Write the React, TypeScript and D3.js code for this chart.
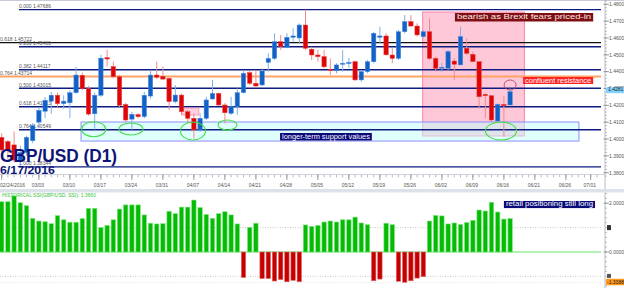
import React from "react";
import * as d3 from "d3";

const W = 624;
const H = 288;

// Daily GBP/USD candles, 02/24/2016 .. 06/17/2016 (index 0..82)
const opens = [1.4010,1.3985,1.3965,1.3875,1.3920,1.3990,1.4100,1.4165,1.4225,1.4260,1.4210,1.4215,1.4275,1.4378,1.4300,1.4150,1.4260,1.4483,1.4430,1.4370,1.4205,1.4118,1.4145,1.4133,1.4255,1.4380,1.4372,1.4360,1.4222,1.4261,1.4162,1.4123,1.4054,1.4123,1.4238,1.4271,1.4202,1.4153,1.4192,1.4275,1.4394,1.4331,1.4321,1.4455,1.4479,1.4578,1.4545,1.4604,1.4600,1.4677,1.4533,1.4499,1.4489,1.4414,1.4406,1.4444,1.4448,1.4459,1.4351,1.4400,1.4459,1.4604,1.4612,1.4499,1.4479,1.4637,1.4697,1.4671,1.4608,1.4637,1.4479,1.4420,1.4420,1.4463,1.4440,1.4539,1.4503,1.4459,1.4265,1.4257,1.4107,1.4206,1.4202];
const highs = [1.4035,1.3995,1.4045,1.3960,1.4020,1.4095,1.4190,1.4250,1.4280,1.4275,1.4260,1.4290,1.4430,1.4395,1.4315,1.4275,1.4500,1.4530,1.4460,1.4380,1.4215,1.4162,1.4153,1.4281,1.4410,1.4460,1.4430,1.4365,1.4320,1.4268,1.4172,1.4153,1.4153,1.4251,1.4351,1.4275,1.4214,1.4251,1.4301,1.4410,1.4406,1.4410,1.4420,1.4509,1.4628,1.4618,1.4628,1.4657,1.4687,1.4769,1.4548,1.4529,1.4529,1.4479,1.4450,1.4529,1.4481,1.4465,1.4410,1.4469,1.4637,1.4667,1.4628,1.4539,1.4647,1.4736,1.4736,1.4687,1.4647,1.4717,1.4489,1.4451,1.4529,1.4481,1.4667,1.4598,1.4519,1.4462,1.4271,1.4261,1.4212,1.4255,1.4301];
const lows = [1.3880,1.3880,1.3860,1.3835,1.3900,1.3975,1.4065,1.4125,1.4150,1.4190,1.4180,1.4125,1.4270,1.4290,1.4140,1.4055,1.4250,1.4430,1.4360,1.4190,1.4100,1.4055,1.4123,1.4123,1.4240,1.4355,1.4350,1.4172,1.4212,1.4143,1.4095,1.4004,1.4043,1.4113,1.4232,1.4198,1.4093,1.4143,1.4143,1.4271,1.4321,1.4307,1.4315,1.4400,1.4469,1.4529,1.4539,1.4578,1.4568,1.4529,1.4469,1.4459,1.4420,1.4380,1.4390,1.4400,1.4422,1.4345,1.4340,1.4392,1.4450,1.4568,1.4495,1.4450,1.4469,1.4628,1.4667,1.4608,1.4598,1.4469,1.4410,1.4398,1.4410,1.4351,1.4440,1.4499,1.4455,1.4182,1.4123,1.4103,1.4103,1.4014,1.4202];
const closes = [1.3935,1.3930,1.3875,1.3920,1.4010,1.4080,1.4170,1.4230,1.4260,1.4210,1.4225,1.4275,1.4380,1.4300,1.4148,1.4260,1.4480,1.4475,1.4370,1.4200,1.4113,1.4147,1.4133,1.4260,1.4380,1.4367,1.4356,1.4222,1.4261,1.4162,1.4123,1.4054,1.4123,1.4232,1.4271,1.4202,1.4156,1.4192,1.4275,1.4390,1.4331,1.4315,1.4404,1.4479,1.4578,1.4548,1.4604,1.4612,1.4677,1.4539,1.4499,1.4489,1.4429,1.4406,1.4440,1.4450,1.4455,1.4351,1.4400,1.4459,1.4628,1.4612,1.4500,1.4479,1.4637,1.4697,1.4671,1.4618,1.4637,1.4479,1.4420,1.4426,1.4519,1.4444,1.4608,1.4509,1.4460,1.4251,1.4257,1.4113,1.4206,1.4198,1.4281];

// Historical SSI, one bar per candle
const ssiValues = [2.06,2.06,2.30,2.02,1.90,1.38,1.27,1.24,1.16,1.49,1.32,1.22,1.22,1.37,1.79,1.79,1.00,1.09,1.32,1.76,1.93,1.93,1.93,1.52,1.18,1.15,1.16,1.67,1.57,1.84,1.84,2.13,1.82,1.54,1.38,1.57,1.65,1.52,1.15,-1.04,1.01,1.18,-1.09,-1.09,-1.19,-1.13,-1.22,-1.16,-1.22,1.11,1.05,1.09,1.23,1.27,1.23,1.32,1.32,1.43,1.19,1.12,-1.18,-1.11,1.18,1.12,-1.20,-1.24,-1.18,-1.07,-1.01,1.27,1.50,1.48,1.15,1.19,1.13,1.21,1.30,1.72,1.68,2.04,1.64,1.35,1.37];

const tickIndex = [0, 6, 11, 16, 21, 26, 31, 36, 41, 46, 51, 56, 61, 66, 71, 76, 81, 86, 91, 95];
const tickLabels = ["02/24/2016","03/03","03/10","03/17","03/24","03/31","04/07","04/14","04/21","04/28","05/05","05/12","05/19","05/26","06/02","06/09","06/16","06/21","06/26","07/01"];

const fibRatios = ["0.000","0.236","0.382","0.500","0.618","0.764","1.000"];
const fibPrices = [1.47686, 1.45481, 1.44117, 1.43015, 1.41913, 1.40549, 1.38344];
const fib2Ratios = ["0.618","0.764"];
const fib2Prices = [1.45722, 1.43714];
const fib2Colors = ["#111111", "#ffa466"];

const priceTicks = [1.38,1.39,1.40,1.41,1.42,1.43,1.44,1.45,1.46,1.47,1.48];
const ssiLabelTicks = [2, 0];
const lastPrice = 1.4281;
const lastSsi = 1.366;
const minSsiLabel = "-1.3388";

// support touches (index, price)
const supportIdx = [14.84, 20.85, 30.85, 36.42, 80.53];
const supportPrice = [1.40583, 1.40595, 1.40476, 1.40833, 1.40476];
const supportRx = [12, 12, 12.5, 9.5, 15.5];
const supportRy = [7.5, 6, 9, 5, 9];

const FONT = "'Liberation Sans', Arial, sans-serif";

export default function App() {
  const x = d3.scaleLinear().domain([0, 82]).range([1.7, 510.1]);
  const y = d3.scaleLinear().domain([1.38, 1.48]).range([172.7, 4.3]);
  const ys = d3.scaleLinear().domain([-1, 2]).range([276.4, 203.2]);
  const plotRight = 601;
  const axisX = 605;
  const bodyW = 4.4;

  const minorPrice = d3.range(1.378, 1.4821, 0.002);
  const minorSsi = d3.range(-1.4, 2.41, 0.2);
  const allTicks = d3.range(0, 97);

  const box = (i0: number, i1: number, p0: number, p1: number) => ({
    x: x(i0), y: y(p0), w: x(i1) - x(i0), h: y(p1) - y(p0),
  });
  const brexitZone = box(67.9, 84.3, 1.4754, 1.4018);
  const supportZone = box(12.8, 93.1, 1.4101, 1.3988);
  const pinkTag = box(29.1, 31.8, 1.41838, 1.41422);
  const brexitLbl = box(73.1, 95.4, 1.47483, 1.46979);
  const confLbl = box(84.1, 95.4, 1.43683, 1.43267);
  const supLbl = box(44.9, 59.7, 1.40358, 1.39912);
  const retail = { x: x(81.0), y: ys(2.09), w: x(95.7) - x(81.0), h: ys(1.8) - ys(2.09) };

  const zeroY = ys(0);

  return (
    <svg width={W} height={H} style={{ position: "absolute", left: 0, top: 0, background: "#fff" }} fontFamily={FONT}>
      <rect x={0} y={0} width={W} height={H} fill="#ffffff" />
      <line x1={0} x2={W} y1={0.5} y2={0.5} stroke="#c8ccd6" />

      {/* zones */}
      <rect x={brexitZone.x} y={brexitZone.y} width={brexitZone.w} height={brexitZone.h}
        fill="#ff6090" fillOpacity={0.35} stroke="#ff7fa6" strokeWidth={1} />
      <rect x={supportZone.x} y={supportZone.y} width={supportZone.w} height={supportZone.h}
        fill="#c0ffff" fillOpacity={0.5} stroke="#8c8cff" strokeWidth={1} />

      {/* second fib set (black / orange) */}
      {fib2Prices.map((p, k) => (
        <g key={"f2" + k}>
          <line x1={0} x2={plotRight} y1={y(p)} y2={y(p)} stroke={fib2Colors[k]} strokeWidth={k === 1 ? 2 : 1.3} />
          <text x={0} y={y(p) - 1.6} fontSize={5} fill="#555">{fib2Ratios[k]} {p.toFixed(5)}</text>
        </g>
      ))}
      {/* fib set */}
      {fibPrices.map((p, k) => (
        <g key={"f" + k}>
          <line x1={19} x2={plotRight} y1={y(p)} y2={y(p)} stroke="#0d1a80" strokeWidth={1.4} />
          <text x={19} y={y(p) - 1.6} fontSize={5} fill="#555">{fibRatios[k]} {p.toFixed(5)}</text>
        </g>
      ))}

      <rect x={pinkTag.x} y={pinkTag.y} width={pinkTag.w} height={pinkTag.h} fill="#ffd2e2" stroke="#ff8fb0" strokeWidth={0.8} />

      {/* candles */}
      {opens.map((o, i) => {
        const c = closes[i];
        const up = c >= o;
        const cx = x(i);
        const top = y(Math.max(o, c));
        const bot = y(Math.min(o, c));
        return (
          <g key={"c" + i}>
            <line x1={cx} x2={cx} y1={y(highs[i])} y2={y(lows[i])} stroke={up ? "#7fb0ea" : "#f08a8a"} strokeWidth={1} />
            <rect x={cx - bodyW / 2} y={top} width={bodyW} height={Math.max(1, bot - top)}
              fill={up ? "#1461c6" : "#dd0505"} stroke={up ? "#4a8ae0" : "#e84040"} strokeWidth={0.5} />
          </g>
        );
      })}

      {/* ellipses */}
      {supportIdx.map((si, k) => (
        <ellipse key={"e" + k} cx={x(si)} cy={y(supportPrice[k])} rx={supportRx[k]} ry={supportRy[k]}
          fill="none" stroke="#3ee03e" strokeWidth={1.1} />
      ))}
      <ellipse cx={x(82)} cy={y(1.43208)} rx={6} ry={5} fill="none" stroke="#b04a70" strokeWidth={0.9} />

      {/* annotation labels */}
      <rect x={brexitLbl.x} y={brexitLbl.y} width={brexitLbl.w} height={brexitLbl.h} fill="#7d0f12" />
      <text x={brexitLbl.x + 2} y={brexitLbl.y + brexitLbl.h - 2} fontSize={7} fill="#ffe8e8"
        textLength={brexitLbl.w - 4} lengthAdjust="spacingAndGlyphs">bearish as Brexit fears priced-in</text>
      <rect x={confLbl.x} y={confLbl.y} width={confLbl.w} height={confLbl.h} fill="#ff2424" />
      <text x={confLbl.x + 2} y={confLbl.y + confLbl.h - 1.5} fontSize={6.5} fill="#fff"
        textLength={confLbl.w - 4} lengthAdjust="spacingAndGlyphs">confluent resistance</text>
      <rect x={supLbl.x} y={supLbl.y} width={supLbl.w} height={supLbl.h} fill="#0a0a78" />
      <text x={supLbl.x + 2} y={supLbl.y + supLbl.h - 1.5} fontSize={6.5} fill="#fff"
        textLength={supLbl.w - 4} lengthAdjust="spacingAndGlyphs">longer-term support values</text>

      {/* title */}
      <text x={0} y={162} fontSize={19} fontWeight="bold" fill="#0c1478" textLength={117} lengthAdjust="spacingAndGlyphs">GBP/USD (D1)</text>
      <text x={0} y={173.5} fontSize={11.5} fontWeight="bold" fill="#0c1478" textLength={55} lengthAdjust="spacingAndGlyphs">6/17/2016</text>

      {/* right price axis */}
      <line x1={axisX} x2={axisX} y1={0} y2={189} stroke="#b8bcc8" />
      {minorPrice.map((p, k) => (
        <line key={"mp" + k} x1={axisX} x2={axisX + 2} y1={y(p)} y2={y(p)} stroke="#999" strokeWidth={0.6} />
      ))}
      {priceTicks.map((p) => (
        <g key={"pt" + p}>
          <line x1={axisX - 1.5} x2={axisX + 4} y1={y(p)} y2={y(p)} stroke="#777" strokeWidth={0.7} />
          <text x={609} y={y(p) + 1.8} fontSize={5} fill="#555">{p.toFixed(4)}</text>
        </g>
      ))}
      <rect x={606} y={y(lastPrice) - 4.5} width={18} height={6} fill="#84d2f7" />
      <text x={608} y={y(lastPrice) - 0.2} fontSize={5} fill="#123">{lastPrice.toFixed(4)}</text>

      {/* date axis */}
      <line x1={0} x2={axisX} y1={174.5} y2={174.5} stroke="#c4c8d2" strokeWidth={0.8} />
      {allTicks.map((i) => (
        <line key={"t" + i} x1={x(i)} x2={x(i)} y1={175} y2={177.3} stroke="#888" strokeWidth={0.6} />
      ))}
      {tickIndex.map((i, k) => (
        <g key={"tl" + k}>
          <line x1={x(i)} x2={x(i)} y1={174.5} y2={180} stroke="#777" strokeWidth={0.7} />
          <text x={k === 0 ? 0 : x(i) - 1} y={187} fontSize={5} fill="#555" textAnchor={k === 0 ? "start" : "middle"}>{tickLabels[k]}</text>
        </g>
      ))}

      {/* panel separator */}
      <rect x={0} y={189} width={W} height={3.5} fill="#dde1ea" />

      {/* SSI panel */}
      <line x1={0} x2={plotRight} y1={ys(1)} y2={ys(1)} stroke="#b5b5b5" strokeWidth={0.7} strokeDasharray="1,1.5" />
      <line x1={0} x2={plotRight} y1={ys(-1)} y2={ys(-1)} stroke="#b5b5b5" strokeWidth={0.7} strokeDasharray="1,1.5" />
      <line x1={0} x2={plotRight} y1={ys(-1.26)} y2={ys(-1.26)} stroke="#d0d0d0" strokeWidth={0.6} strokeDasharray="1,1.5" />
      <line x1={0} x2={plotRight} y1={zeroY} y2={zeroY} stroke="#98ec98" strokeWidth={1.4} />
      {ssiValues.map((v, i) => {
        const yy = ys(v);
        const pos = v >= 0;
        return (
          <rect key={"s" + i} x={x(i) - 2.2} y={pos ? yy : zeroY} width={4.4} height={Math.abs(yy - zeroY)}
            fill={pos ? "#05bb05" : "#c40000"} stroke={pos ? "#7de87d" : "#e06a6a"} strokeWidth={0.6} />
        );
      })}
      <text x={2} y={197} fontSize={5} fill="#39c439">HISTORICAL SSI(GBP/USD, SSI): {lastSsi.toFixed(4)}</text>

      <rect x={retail.x} y={retail.y} width={retail.w} height={retail.h} fill="#0a0a78" />
      <text x={retail.x + 2} y={retail.y + retail.h - 1.6} fontSize={6.5} fill="#fff"
        textLength={retail.w - 4} lengthAdjust="spacingAndGlyphs">retail positioning still long</text>

      {/* SSI axis */}
      <line x1={axisX} x2={axisX} y1={192.5} y2={H} stroke="#b8bcc8" />
      {minorSsi.map((v, k) => (
        <line key={"ms" + k} x1={axisX} x2={axisX + 2} y1={ys(v)} y2={ys(v)} stroke="#999" strokeWidth={0.6} />
      ))}
      {ssiLabelTicks.map((v) => (
        <g key={"st" + v}>
          <line x1={axisX - 1.5} x2={axisX + 4} y1={ys(v)} y2={ys(v)} stroke="#777" strokeWidth={0.7} />
          <text x={609} y={ys(v) + 1.8} fontSize={5} fill="#555">{v.toFixed(4)}</text>
        </g>
      ))}
      <rect x={607} y={ys(1) - 2.5} width={4} height={5} fill="#333" />
      <rect x={607} y={ys(-1) - 2.5} width={4} height={4} fill="#555" />
      <rect x={606} y={ys(-1.24) - 3.5} width={18} height={6.5} fill="#ff9a1a" />
      <text x={607} y={ys(-1.24) + 1.5} fontSize={5} fill="#222">{minSsiLabel}</text>
    </svg>
  );
}
